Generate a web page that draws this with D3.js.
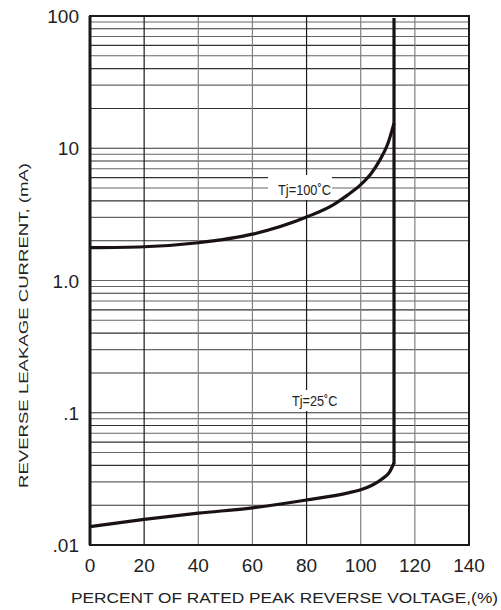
<!DOCTYPE html>
<html>
<head>
<meta charset="utf-8">
<script src="https://cdn.jsdelivr.net/npm/d3@7"></script>
<style>
  html, body { margin: 0; padding: 0; background: #fff; }
  svg text { font-family: "Liberation Sans", Arial, sans-serif; fill: #222; }
</style>
</head>
<body>
<div id="chart"></div>
<script>
const xTicks = [0, 20, 40, 60, 80, 100, 120, 140];
const yTicks = [0.01, 0.1, 1, 10, 100];
const yTickLabels = [".01", ".1", "1.0", "10", "100"];

// Tj = 100°C curve
const hotX = [0, 20, 40, 60, 80, 90, 95, 100, 104, 107, 110, 112.3];
const hotY = [1.77, 1.80, 1.93, 2.24, 3.02, 3.75, 4.4, 5.3, 6.5, 8.1, 10.8, 15.5];

// Tj = 25°C curve
const coldX = [0, 20, 40, 60, 80, 95, 100, 104, 108, 110.5, 112.3];
const coldY = [0.01375, 0.0156, 0.0174, 0.0191, 0.0219, 0.0247, 0.0262, 0.0282, 0.0317, 0.0352, 0.0417];

const breakdownX = 112.3;   // vertical rise
const breakdownTop = 100;

const W = 501, H = 610;
const margin = { top: 16, right: 32, bottom: 65, left: 90 };

const svg = d3.select("#chart").append("svg")
  .attr("width", W)
  .attr("height", H);

const x = d3.scaleLinear().domain([0, 140]).range([margin.left, W - margin.right]);
const y = d3.scaleLog().domain([0.01, 100]).range([H - margin.bottom, margin.top]);

// grid
const grid = svg.append("g").attr("class", "grid");
const minor = [];
[0.01, 0.1, 1, 10].forEach(d => {
  for (let k = 2; k <= 9; k++) minor.push(d * k);
});
grid.selectAll("line.h")
  .data(minor.concat([0.1, 1, 10]))
  .join("line")
  .attr("class", "h")
  .attr("x1", x(0)).attr("x2", x(140))
  .attr("y1", d => y(d)).attr("y2", d => y(d))
  .attr("stroke", (d, i) => i % 2 ? "#666" : "#333")
  .attr("stroke-width", 1.1);

grid.selectAll("line.v")
  .data(xTicks.slice(1, -1))
  .join("line")
  .attr("class", "v")
  .attr("x1", d => x(d)).attr("x2", d => x(d))
  .attr("y1", y(0.01)).attr("y2", y(100))
  .attr("stroke", d => (d === 20 || d === 80) ? "#1a1a1a" : "#808080")
  .attr("stroke-width", 1.2);

// white patches behind curve labels
svg.append("rect").attr("x", 268).attr("y", 175).attr("width", 64).attr("height", 25).attr("fill", "#fff");
svg.append("rect").attr("x", 288).attr("y", 390).attr("width", 52).attr("height", 21).attr("fill", "#fff");

// frame
svg.append("rect")
  .attr("x", x(0)).attr("y", y(100))
  .attr("width", x(140) - x(0)).attr("height", y(0.01) - y(100))
  .attr("fill", "none").attr("stroke", "#1a1a1a").attr("stroke-width", 2);
svg.append("line")
  .attr("x1", x(0)).attr("x2", x(0))
  .attr("y1", y(100)).attr("y2", y(0.01))
  .attr("stroke", "#1a1a1a").attr("stroke-width", 3);

// curves
const line = d3.line()
  .x(d => x(d[0]))
  .y(d => y(d[1]))
  .curve(d3.curveMonotoneX);

svg.append("path")
  .datum(hotX.map((v, i) => [v, hotY[i]]))
  .attr("d", line)
  .attr("fill", "none").attr("stroke", "#1a1212").attr("stroke-width", 3.2);

svg.append("path")
  .datum(coldX.map((v, i) => [v, coldY[i]]))
  .attr("d", line)
  .attr("fill", "none").attr("stroke", "#1a1212").attr("stroke-width", 3.2);

svg.append("line")
  .attr("x1", x(breakdownX)).attr("x2", x(breakdownX))
  .attr("y1", y(coldY[coldY.length - 1]) + 1).attr("y2", y(breakdownTop) + 2)
  .attr("stroke", "#1a1212").attr("stroke-width", 3.2);

// curve labels
svg.append("text")
  .attr("x", 278).attr("y", 195)
  .attr("font-size", 14.5)
  .attr("textLength", 53).attr("lengthAdjust", "spacingAndGlyphs")
  .text("Tj=100˚C");
svg.append("text")
  .attr("x", 292).attr("y", 405.5)
  .attr("font-size", 14.5)
  .attr("textLength", 45.5).attr("lengthAdjust", "spacingAndGlyphs")
  .text("Tj=25˚C");

// tick labels
svg.append("g").selectAll("text")
  .data(xTicks)
  .join("text")
  .attr("x", d => x(d))
  .attr("y", 572)
  .attr("text-anchor", "middle")
  .attr("font-size", 19)
  .text(d => d);

svg.append("g").selectAll("text")
  .data(yTicks)
  .join("text")
  .attr("x", 79)
  .attr("y", d => y(d) + 7)
  .attr("text-anchor", "end")
  .attr("font-size", 19)
  .text((d, i) => yTickLabels[i]);

// axis titles
svg.append("text")
  .attr("x", 284.5).attr("y", 603)
  .attr("text-anchor", "middle")
  .attr("font-size", 15.5)
  .attr("textLength", 427).attr("lengthAdjust", "spacingAndGlyphs")
  .text("PERCENT OF RATED PEAK REVERSE VOLTAGE,(%)");

svg.append("text")
  .attr("transform", "translate(28,325.5) rotate(-90)")
  .attr("text-anchor", "middle")
  .attr("font-size", 13)
  .attr("textLength", 325).attr("lengthAdjust", "spacingAndGlyphs")
  .text("REVERSE LEAKAGE CURRENT, (mA)");
</script>
</body>
</html>
